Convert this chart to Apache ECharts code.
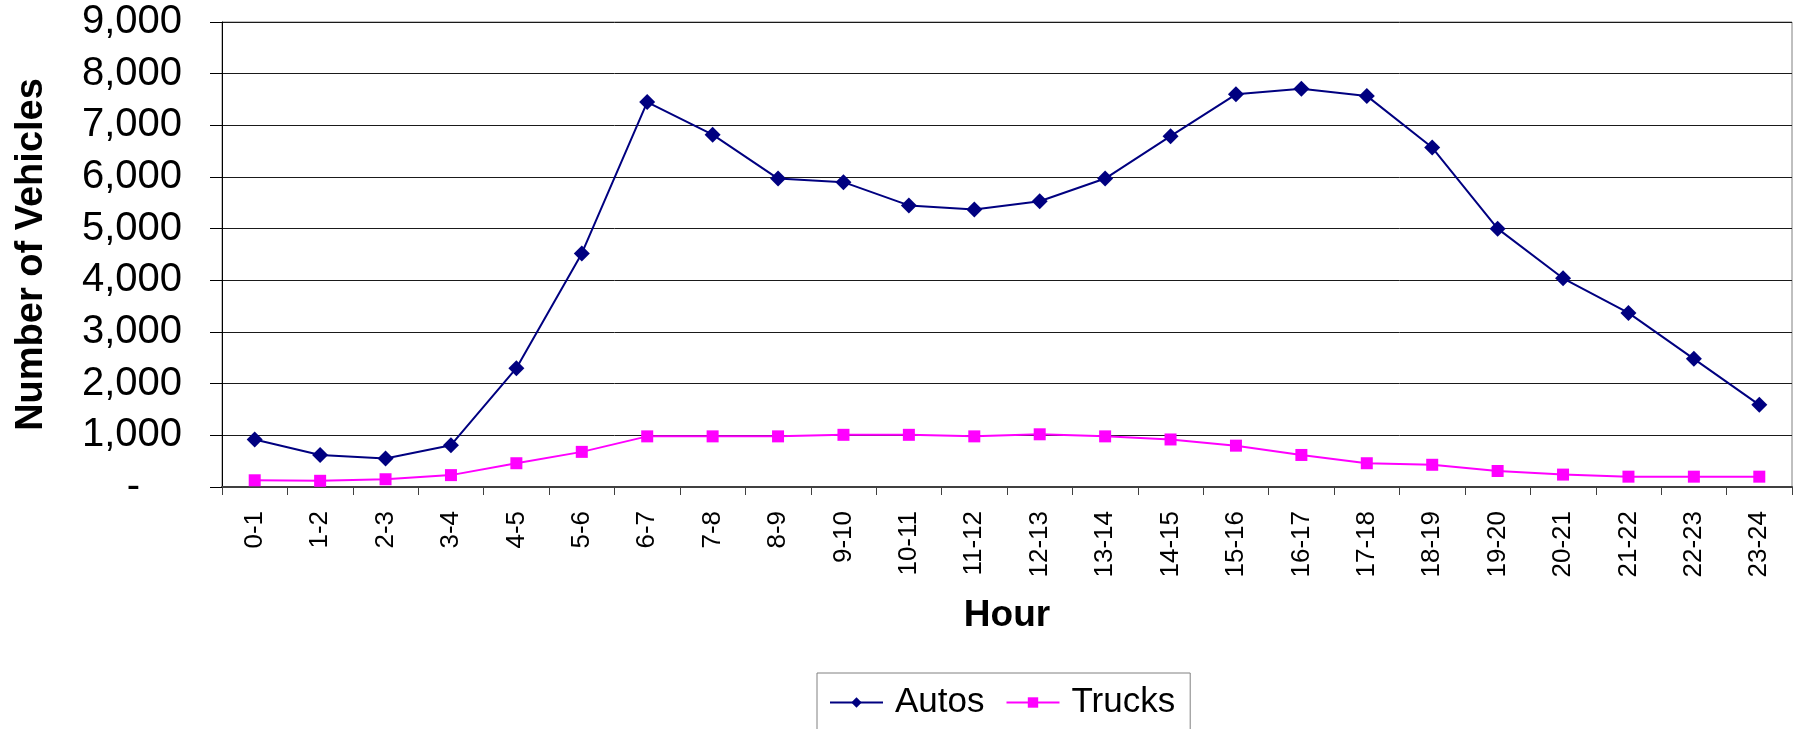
<!doctype html>
<html>

<head>
	<meta charset="utf-8">
	<style>
		html, body { margin: 0; padding: 0; background: #fff; }
		#chart { width: 1797px; height: 729px; }
	</style>
</head>

<body>
	<div id="chart"></div>
</body>
<script src="https://cdn.jsdelivr.net/npm/echarts@6/dist/echarts.min.js"></script>
<script type="text/javascript">
	var hours = ['0-1', '1-2', '2-3', '3-4', '4-5', '5-6', '6-7', '7-8', '8-9', '9-10', '10-11', '11-12',
		'12-13', '13-14', '14-15', '15-16', '16-17', '17-18', '18-19', '19-20', '20-21', '21-22', '22-23', '23-24'];
	var autos = [920, 620, 550, 810, 2300, 4520, 7450, 6820, 5970, 5900, 5450, 5370,
		5530, 5970, 6790, 7600, 7710, 7570, 6570, 5000, 4040, 3370, 2480, 1590];
	var trucks = [130, 120, 150, 230, 460, 680, 980, 980, 980, 1010, 1010, 980,
		1020, 980, 920, 800, 620, 460, 430, 310, 240, 200, 200, 200];

	var font = "'Liberation Sans', Arial, sans-serif";

	var myChart = echarts.init(document.getElementById('chart'));
	var option = {
		backgroundColor: '#fff',
		animation: false,
		textStyle: { fontFamily: font, color: '#000' },
		grid: {
			left: 222,
			right: 5,
			top: 22,
			bottom: 242,
			outerBoundsMode: 'none',
			containLabel: false,
			show: true,
			borderColor: '#808080',
			borderWidth: 1
		},
		legend: {
			left: 817,
			top: 673,
			padding: [12, 15, 30, 12],
			itemWidth: 53,
			itemHeight: 13,
			itemGap: 21,
			borderColor: '#808080',
			borderWidth: 1,
			textStyle: {
				fontFamily: font,
				fontSize: 35,
				color: '#000',
				padding: [0, 0, 0, 7]
			},
			data: ['Autos', 'Trucks']
		},
		xAxis: {
			type: 'category',
			data: hours,
			name: 'Hour',
			nameLocation: 'middle',
			nameGap: 110,
			nameTextStyle: { fontFamily: font, fontSize: 37, fontWeight: 'bold', color: '#000' },
			axisLine: { lineStyle: { color: '#404040', width: 2 } },
			axisTick: { show: true, interval: 0, length: 8, lineStyle: { color: '#404040' } },
			axisLabel: {
				interval: 0,
				rotate: 90,
				margin: 24,
				fontFamily: font,
				fontSize: 26,
				color: '#000'
			},
			splitLine: { show: false }
		},
		yAxis: {
			type: 'value',
			min: 0,
			max: 9000,
			interval: 1000,
			name: 'Number of Vehicles',
			nameLocation: 'middle',
			nameGap: 171,
			nameTextStyle: { fontFamily: font, fontSize: 38, fontWeight: 'bold', color: '#000' },
			axisLine: { show: true, lineStyle: { color: '#000', width: 1 } },
			axisTick: { show: true, length: 12, lineStyle: { color: '#000' } },
			axisLabel: {
				margin: 40,
				fontFamily: font,
				fontSize: 40,
				color: '#000',
				formatter: function(value) {
					if (value === 0) {
						return '{d|-}';
					}
					return value.toString().replace(/\B(?=(\d{3})+(?!\d))/g, ',');
				},
				rich: {
					d: { fontFamily: font, fontSize: 40, color: '#000', padding: [0, 42, 0, 0] }
				}
			},
			splitLine: { show: true, lineStyle: { color: '#1a1a1a', width: 1 } }
		},
		series: [
			{
				name: 'Autos',
				type: 'line',
				data: autos,
				symbol: 'diamond',
				symbolSize: 16,
				lineStyle: { color: '#000080', width: 2 },
				itemStyle: { color: '#000080' }
			}, {
				name: 'Trucks',
				type: 'line',
				data: trucks,
				symbol: 'rect',
				symbolSize: 12,
				lineStyle: { color: '#FF00FF', width: 2 },
				itemStyle: { color: '#FF00FF' }
			}
		]
	};
	myChart.setOption(option);
</script>

</html>
